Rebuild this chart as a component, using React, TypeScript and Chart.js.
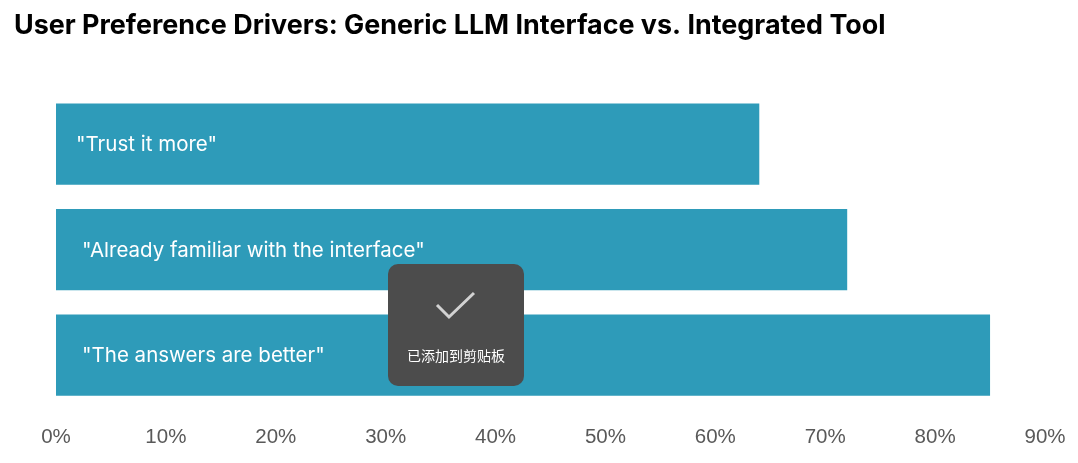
import { useEffect, useRef } from 'react';
import Chart from 'chart.js/auto';

const categories = ['"Trust it more"', '"Already familiar with the interface"', '"The answers are better"'];
const shares = [64, 72, 85];
const toastText = '已添加到剪贴板';

const barLabels = {
  id: 'barLabels',
  afterDatasetsDraw(chart: any) {
    const { ctx } = chart;
    ctx.save();
    ctx.font = '20.5px Inter';
    ctx.fillStyle = '#ffffff';
    ctx.textBaseline = 'middle';
    chart.getDatasetMeta(0).data.forEach((bar: any, i: number) => {
      // the first label sits a little closer to the axis in the original
      ctx.fillText(categories[i], bar.base + (i === 0 ? 20 : 26), bar.y + 1);
    });
    ctx.restore();
  }
};

export default function App() {
  const chartRef = useRef<HTMLCanvasElement>(null);

  useEffect(() => {
    if (!chartRef.current) return;

    const chart = new Chart(chartRef.current, {
      type: 'bar',
      data: {
        labels: categories,
        datasets: [
          {
            data: shares,
            backgroundColor: '#2e9bb9',
            barPercentage: 0.77,
            categoryPercentage: 1
          }
        ]
      },
      options: {
        indexAxis: 'y',
        responsive: false,
        animation: false,
        layout: { padding: { left: 14, right: 33 } },
        plugins: {
          legend: { display: false },
          tooltip: { enabled: false },
          title: {
            display: true,
            text: 'User Preference Drivers: Generic LLM Interface vs. Integrated Tool',
            align: 'start',
            color: '#000000',
            font: { family: 'Inter', size: 26.9, weight: 'bold' },
            padding: { top: 10, bottom: 49 }
          }
        },
        scales: {
          x: {
            min: 0,
            max: 90,
            grid: { display: false },
            border: { display: false },
            ticks: {
              stepSize: 10,
              padding: 9,
              maxRotation: 0,
              color: '#595959',
              font: { family: 'Liberation Sans', size: 20.5 },
              callback: (value: any) => `${value}%`
            },
            afterFit: (scale: any) => {
              scale.height = 55;
            }
          },
          y: {
            grid: { display: false },
            border: { display: false },
            ticks: { display: false },
            afterFit: (scale: any) => {
              scale.width = 42;
            }
          }
        }
      },
      plugins: [barLabels]
    });

    return () => {
      chart.destroy();
    };
  }, []);

  return (
    <div style={{ position: 'absolute', left: 0, top: 0, width: 1078, height: 463, background: '#fff', overflow: 'hidden' }}>
      <canvas ref={chartRef} width={1078} height={463} style={{ display: 'block' }} />
      <div
        style={{
          position: 'absolute',
          left: 388,
          top: 264,
          width: 136,
          height: 122,
          borderRadius: 10,
          background: '#4c4c4c'
        }}
      >
        <svg width="136" height="70" style={{ position: 'absolute', left: 0, top: 0 }}>
          <polyline points="49,41 61,53 86,29" fill="none" stroke="#d2d2d2" strokeWidth="3" />
        </svg>
        <div
          style={{
            position: 'absolute',
            left: 0,
            top: 82,
            width: 136,
            textAlign: 'center',
            color: '#fff',
            fontFamily: '"Noto Sans CJK SC"',
            fontSize: 14,
            lineHeight: '18px'
          }}
        >
          {toastText}
        </div>
      </div>
    </div>
  );
}
